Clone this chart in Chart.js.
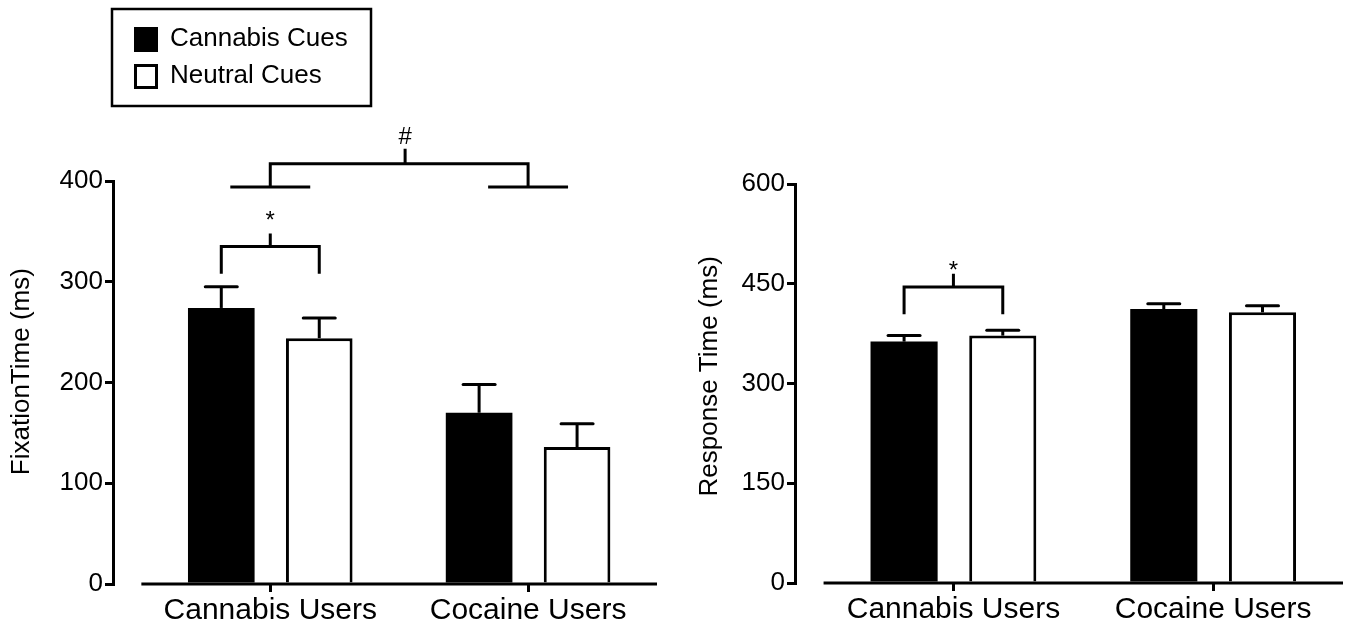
<!DOCTYPE html>
<html>
<head>
<meta charset="utf-8">
<script src="https://cdn.jsdelivr.net/npm/chart.js@4.4.1/dist/chart.umd.min.js"></script>
<style>
  html, body { margin: 0; padding: 0; background: #fff; }
  #wrap { position: relative; width: 1350px; height: 627px; }
  #left { position: absolute; left: 0; top: 0; }
  #right { position: absolute; left: 675px; top: 0; }
</style>
</head>
<body>
<div id="wrap">
  <canvas id="left" width="675" height="627"></canvas>
  <canvas id="right" width="675" height="627"></canvas>
</div>
<script>
const groups = ['Cannabis Users', 'Cocaine Users'];
const seriesNames = ['Cannabis Cues', 'Neutral Cues'];

// fixation time (ms), mean and SEM
const fixCannabisCues = [274, 170];
const fixCannabisCuesSem = [21, 28];
const fixNeutralCues = [244, 136];
const fixNeutralCuesSem = [20, 23];
const fixTicks = [0, 100, 200, 300, 400];

// response time (ms), mean and SEM
const rtCannabisCues = [363, 412];
const rtCannabisCuesSem = [9, 8];
const rtNeutralCues = [372, 407];
const rtNeutralCuesSem = [8, 10];
const rtTicks = [0, 150, 300, 450, 600];

// significance marks, levels in data units
const fixMarks = [
    { kind: 'pair', group: 0, level: 335, leg: 308, tick: 348, text: '*', textAt: 366 },
    { kind: 'groups', level: 417, foot: 394, half: 0.155, tickX: 0.523, tick: 432, text: '#', textAt: 445 }
];
const rtMarks = [
    { kind: 'pair', group: 0, level: 445, leg: 404, tick: 465, text: '*', textAt: 477 }
];

Chart.defaults.font.family = "'Liberation Sans', Arial, sans-serif";
Chart.defaults.color = '#000';

const toPoints = (vals) => vals.map((v, i) => ({ x: i, y: v }));

const errorBars = {
    id: 'errorBars',
    afterDatasetsDraw(chart) {
        const { ctx, chartArea } = chart;
        const xs = chart.scales.x;
        const ys = chart.scales.y;
        ctx.save();
        ctx.strokeStyle = '#000';
        ctx.lineWidth = 3;
        chart.data.datasets.forEach((ds, i) => {
            chart.getDatasetMeta(i).data.forEach((bar, j) => {
                const top = ys.getPixelForValue(ds.data[j].y + ds.sem[j]);
                ctx.lineCap = 'butt';
                ctx.beginPath();
                ctx.moveTo(bar.x, bar.y);
                ctx.lineTo(bar.x, top);
                ctx.stroke();
                ctx.lineCap = 'round';
                ctx.beginPath();
                ctx.moveTo(bar.x - 16, top);
                ctx.lineTo(bar.x + 16, top);
                ctx.stroke();
            });
        });
        // x axis line, detached from the y axis
        const base = ys.getPixelForValue(0);
        ctx.lineCap = 'butt';
        ctx.beginPath();
        ctx.moveTo(xs.getPixelForValue(-0.5), base);
        ctx.lineTo(chartArea.right, base);
        ctx.stroke();
        ctx.restore();
    }
};

const sigMarks = {
    id: 'sigMarks',
    afterDraw(chart, args, opts) {
        const { ctx } = chart;
        const xs = chart.scales.x;
        const ys = chart.scales.y;
        const py = (v) => ys.getPixelForValue(v);
        ctx.save();
        ctx.strokeStyle = '#000';
        ctx.fillStyle = '#000';
        ctx.lineWidth = 3;
        ctx.lineJoin = 'miter';
        ctx.font = "24px 'Liberation Sans', Arial, sans-serif";
        ctx.textAlign = 'center';
        ctx.textBaseline = 'alphabetic';
        (opts.marks || []).forEach((m) => {
            let tx;
            ctx.beginPath();
            if (m.kind === 'pair') {
                const x0 = chart.getDatasetMeta(0).data[m.group].x;
                const x1 = chart.getDatasetMeta(1).data[m.group].x;
                ctx.moveTo(x0, py(m.leg));
                ctx.lineTo(x0, py(m.level));
                ctx.lineTo(x1, py(m.level));
                ctx.lineTo(x1, py(m.leg));
                tx = (x0 + x1) / 2;
            } else {
                const c0 = xs.getPixelForValue(0);
                const c1 = xs.getPixelForValue(1);
                const hw = xs.getPixelForValue(m.half) - c0;
                ctx.moveTo(c0 - hw, py(m.foot));
                ctx.lineTo(c0 + hw, py(m.foot));
                ctx.moveTo(c0, py(m.foot));
                ctx.lineTo(c0, py(m.level));
                ctx.lineTo(c1, py(m.level));
                ctx.lineTo(c1, py(m.foot));
                ctx.moveTo(c1 - hw, py(m.foot));
                ctx.lineTo(c1 + hw, py(m.foot));
                tx = xs.getPixelForValue(m.tickX);
            }
            ctx.moveTo(tx, py(m.level));
            ctx.lineTo(tx, py(m.tick));
            ctx.stroke();
            const tm = ctx.measureText(m.text);
            const cy = py(m.textAt) + (tm.actualBoundingBoxAscent - tm.actualBoundingBoxDescent) / 2;
            ctx.fillText(m.text, tx, cy);
        });
        ctx.restore();
    }
};

const boxLegend = {
    id: 'boxLegend',
    afterDraw(chart, args, opts) {
        if (!opts.show) return;
        const { ctx } = chart;
        ctx.save();
        ctx.lineWidth = 2.5;
        ctx.strokeStyle = '#000';
        ctx.strokeRect(112, 9, 259, 97);
        ctx.font = "26px 'Liberation Sans', Arial, sans-serif";
        ctx.textBaseline = 'middle';
        ctx.textAlign = 'left';
        chart.data.datasets.forEach((ds, i) => {
            const cy = 39 + i * 37;
            ctx.fillStyle = ds.backgroundColor;
            ctx.fillRect(134, cy - 12, 24, 25);
            ctx.lineWidth = 3;
            ctx.strokeRect(135.5, cy - 10.5, 21, 22);
            ctx.fillStyle = '#000';
            ctx.fillText(ds.label, 170, cy);
        });
        ctx.restore();
    }
};

function barChart(id, a, aSem, b, bSem, ticks, title, look) {
    return new Chart(document.getElementById(id), {
        type: 'bar',
        data: {
            datasets: [
                {
                    label: seriesNames[0],
                    data: toPoints(a),
                    sem: aSem,
                    backgroundColor: '#000',
                    borderColor: '#000',
                    borderWidth: 0,
                    categoryPercentage: 0.76,
                    barPercentage: 0.68
                },
                {
                    label: seriesNames[1],
                    data: toPoints(b),
                    sem: bSem,
                    backgroundColor: '#fff',
                    borderColor: '#000',
                    borderWidth: 3,
                    categoryPercentage: 0.76,
                    barPercentage: 0.68
                }
            ]
        },
        options: {
            responsive: false,
            animation: false,
            layout: { padding: look.padding },
            plugins: {
                legend: { display: false },
                tooltip: { enabled: false },
                sigMarks: { marks: look.marks },
                boxLegend: { show: look.legend }
            },
            scales: {
                x: {
                    type: 'linear',
                    min: -0.61,
                    max: 1.5,
                    offset: false,
                    afterBuildTicks: (s) => { s.ticks = groups.map((g, i) => ({ value: i })); },
                    afterFit: (s) => { s.height = look.xHeight; },
                    ticks: {
                        autoSkip: false,
                        maxRotation: 0,
                        padding: 1,
                        font: { size: 30 },
                        callback: (v) => groups[v]
                    },
                    grid: {
                        offset: false,
                        drawOnChartArea: false,
                        drawTicks: true,
                        tickLength: 8,
                        color: '#000',
                        lineWidth: 3
                    },
                    border: { display: false }
                },
                y: {
                    min: ticks[0],
                    max: ticks[ticks.length - 1],
                    afterBuildTicks: (s) => { s.ticks = ticks.map((v) => ({ value: v })); },
                    afterFit: (s) => { s.width = look.yWidth; },
                    ticks: { padding: 2, font: { size: 26 } },
                    grid: {
                        drawOnChartArea: false,
                        drawTicks: true,
                        tickLength: 8,
                        color: '#000',
                        lineWidth: 3
                    },
                    border: { display: true, color: '#000', width: 3 },
                    title: {
                        display: true,
                        // leading spaces nudge the rotated title upwards like the original
                        text: look.titleLead + title,
                        font: { size: 26 },
                        padding: { top: look.titlePad, bottom: 0 }
                    }
                }
            }
        },
        plugins: [errorBars, sigMarks, boxLegend]
    });
}

barChart('left', fixCannabisCues, fixCannabisCuesSem, fixNeutralCues, fixNeutralCuesSem,
    fixTicks, 'FixationTime (ms)',
    { padding: { top: 181, right: 18, bottom: 0, left: 0 }, yWidth: 113, xHeight: 43, titlePad: 6, titleLead: '   ', marks: fixMarks, legend: true });

barChart('right', rtCannabisCues, rtCannabisCuesSem, rtNeutralCues, rtNeutralCuesSem,
    rtTicks, 'Response Time (ms)',
    { padding: { top: 184, right: 7, bottom: 0, left: 0 }, yWidth: 120, xHeight: 44, titlePad: 19, titleLead: '  ', marks: rtMarks, legend: false });
</script>
</body>
</html>
